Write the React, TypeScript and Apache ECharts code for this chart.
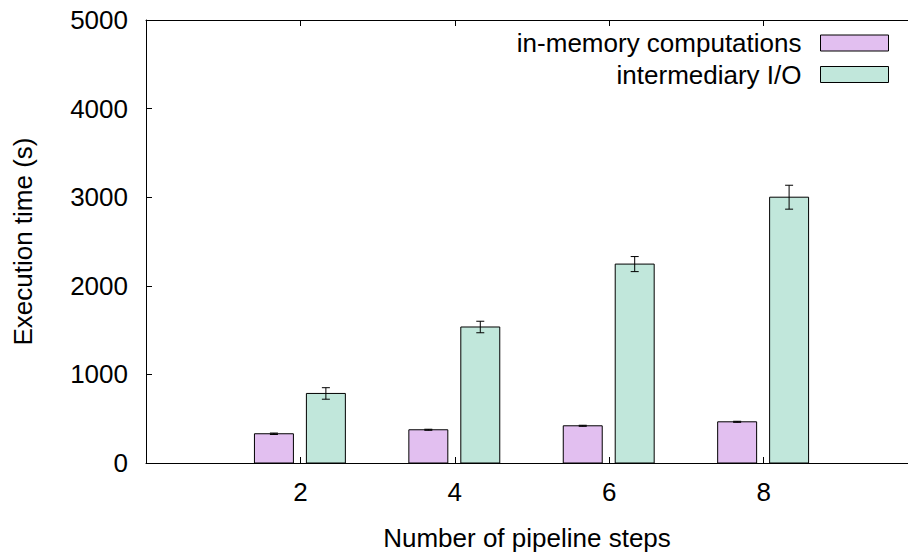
import React, { useEffect, useRef } from "react";
import * as echarts from "echarts";

const categories = ["2", "4", "6", "8"];
const seriesNames = ["in-memory computations", "intermediary I/O"];
const inMemory = [330, 375, 420, 465];
const inMemoryErr = [8, 6, 6, 6];
const io = [785, 1535, 2245, 3000];
const ioErr = [65, 65, 85, 135];
const colors = ["#e2bff0", "#c1e7db"];

const FONT = "'Liberation Sans', Arial, Helvetica, sans-serif";
const FS = 26;

export default function App() {
  const ref = useRef<HTMLDivElement>(null);
  useEffect(() => {
    if (!ref.current) return;
    const chart = echarts.init(ref.current, null, { renderer: "svg" });
    const offsets = [-0.1715, 0.165];
    const half = 0.1262;
    const renderItem = (params: any, api: any) => {
      const si = params.seriesIndex;
      const idx = api.value(0);
      const val = api.value(1);
      const err = api.value(2);
      const c = idx + offsets[si];
      const p0 = api.coord([c - half, 0]);
      const p1 = api.coord([c + half, val]);
      const cx = api.coord([c, val])[0];
      const yTop = api.coord([c, val + err])[1];
      const yBot = api.coord([c, val - err])[1];
      const cap = 4;
      const lineStyle = { stroke: "#000", lineWidth: 1 };
      return {
        type: "group",
        children: [
          {
            type: "rect",
            shape: { x: p0[0], y: p1[1], width: p1[0] - p0[0], height: p0[1] - p1[1] },
            style: { fill: colors[si], stroke: "#000", lineWidth: 1 },
          },
          { type: "line", shape: { x1: cx, y1: yTop, x2: cx, y2: yBot }, style: lineStyle },
          { type: "line", shape: { x1: cx - cap, y1: yTop, x2: cx + cap, y2: yTop }, style: lineStyle },
          { type: "line", shape: { x1: cx - cap, y1: yBot, x2: cx + cap, y2: yBot }, style: lineStyle },
        ],
      };
    };
    const mk = (vals: number[], errs: number[]) => vals.map((v, i) => [i, v, errs[i]]);
    const axisLine = { show: true, onZero: false, lineStyle: { color: "#000", width: 1 } };
    const tick = { show: true, inside: true, length: 6, lineStyle: { color: "#000", width: 1 } };
    const legendBase = {
      orient: "vertical",
      align: "right",
      right: 19,
      padding: 0,
      itemWidth: 68,
      itemHeight: 16,
      icon: "rect",
      textStyle: { fontSize: FS, color: "#000", fontFamily: FONT, lineHeight: FS, padding: [0, 14, 0, 0] },
    };
    chart.setOption({
      animation: false,
      backgroundColor: "#fff",
      textStyle: { fontFamily: FONT },
      grid: { left: 146, right: 0, top: 20, bottom: 91, containLabel: false },
      legend: [
        {
          ...legendBase,
          top: 30,
          data: [{ name: seriesNames[0], itemStyle: { color: colors[0], borderColor: "#000", borderWidth: 1 } }],
        },
        {
          ...legendBase,
          top: 61.5,
          data: [{ name: seriesNames[1], itemStyle: { color: colors[1], borderColor: "#000", borderWidth: 1 } }],
        },
      ],
      xAxis: [
        {
          type: "value",
          min: -1,
          max: 3.935,
          interval: 1,
          name: "Number of pipeline steps",
          nameLocation: "middle",
          nameGap: 62,
          nameTextStyle: { fontSize: FS, color: "#000", fontFamily: FONT },
          axisLine,
          axisTick: tick,
          splitLine: { show: false },
          axisLabel: {
            fontSize: FS,
            color: "#000",
            fontFamily: FONT,
            margin: 16,
            showMaxLabel: false,
            formatter: (v: number) => (Number.isInteger(v) && categories[v] !== undefined ? categories[v] : ""),
          },
        },
        {
          type: "value",
          position: "top",
          min: -1,
          max: 3.935,
          interval: 1,
          axisLine,
          axisTick: tick,
          axisLabel: { show: false },
          splitLine: { show: false },
        },
      ],
      yAxis: {
        type: "value",
        min: 0,
        max: 5000,
        interval: 1000,
        name: "Execution time (s)",
        nameLocation: "middle",
        nameGap: 110,
        nameTextStyle: { fontSize: FS, color: "#000", fontFamily: FONT },
        axisLine,
        axisTick: tick,
        splitLine: { show: false },
        axisLabel: {
          fontSize: FS,
          color: "#000",
          fontFamily: FONT,
          margin: 18,
          formatter: (v: number) => String(v),
        },
      },
      series: [
        {
          name: seriesNames[0],
          type: "custom",
          renderItem,
          itemStyle: { color: colors[0], borderColor: "#000", borderWidth: 1 },
          encode: { x: 0, y: 1 },
          data: mk(inMemory, inMemoryErr),
        },
        {
          name: seriesNames[1],
          type: "custom",
          renderItem,
          itemStyle: { color: colors[1], borderColor: "#000", borderWidth: 1 },
          encode: { x: 0, y: 1 },
          data: mk(io, ioErr),
        },
      ],
    });
    return () => chart.dispose();
  }, []);
  return <div ref={ref} style={{ position: "fixed", left: 0, top: 0, width: 908, height: 556 }} />;
}
